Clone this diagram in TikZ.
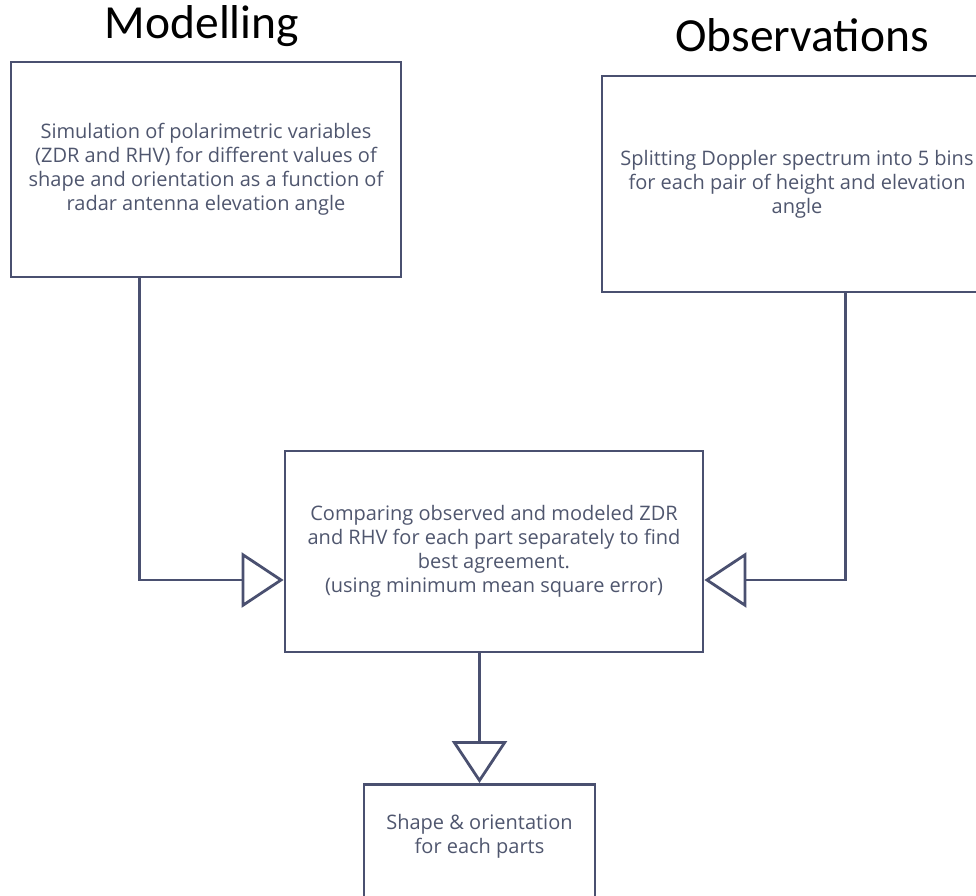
\documentclass[tikz,border=0pt]{standalone}
\usepackage{fontspec}
\setmainfont{Open Sans}
\newfontfamily\titlefont{Carlito}
\usetikzlibrary{arrows.meta,positioning}
\definecolor{slate}{HTML}{4A5070}
\definecolor{textgrey}{HTML}{4F566E}

\tikzset{
  box/.style={draw=slate, line width=2.8pt, inner sep=0pt, text=textgrey,
    align=center, font=\fontsize{20}{24}\selectfont},
  flow/.style={draw=slate, line width=2.8pt,
    -{Triangle[open, length=42pt, width=55pt]}},
  heading/.style={font=\titlefont\fontsize{47.5}{56}\selectfont, anchor=base}
}

\begin{document}
\begin{tikzpicture}[x=1pt, y=-1pt]
\useasboundingbox (0,0) rectangle (976,895);

% headings
\node[heading] (modeltitle) at (202,38) {Modelling};
\node[heading] (obstitle) at (802,51) {Observations};

% boxes
\node[box, minimum width=390pt, minimum height=215pt] (model) at (206,169.5)
  {Simulation of polarimetric variables\\(ZDR and RHV) for different values of\\shape and orientation as a function of\\radar antenna elevation angle};
\node[box, minimum width=390pt, minimum height=216pt] (observe) at (797,184)
  {Splitting Doppler spectrum into 5 bins\\for each pair of height and elevation\\angle};
\node[box, minimum width=418pt, minimum height=201pt] (compare) at (494,551.5)
  {Comparing observed and modeled ZDR\\and RHV for each part separately to find\\best agreement.\\(using minimum mean square error)};
\node[box, minimum width=231pt, minimum height=140pt, anchor=north] (result) at (479.5,783) {};
\node[box, draw=none] (resulttext) at ([yshift=-53pt]result.north)
  {Shape \& orientation\\for each parts};

% connectors
\draw[flow] ([xshift=130pt]model.south west) |- ([yshift=-28.5pt]compare.west);
\draw[flow] ([xshift=245pt]observe.south west) |- ([yshift=-28.5pt]compare.east);
\draw[flow] (compare.south -| result.north) -- (result.north);
\end{tikzpicture}
\end{document}
